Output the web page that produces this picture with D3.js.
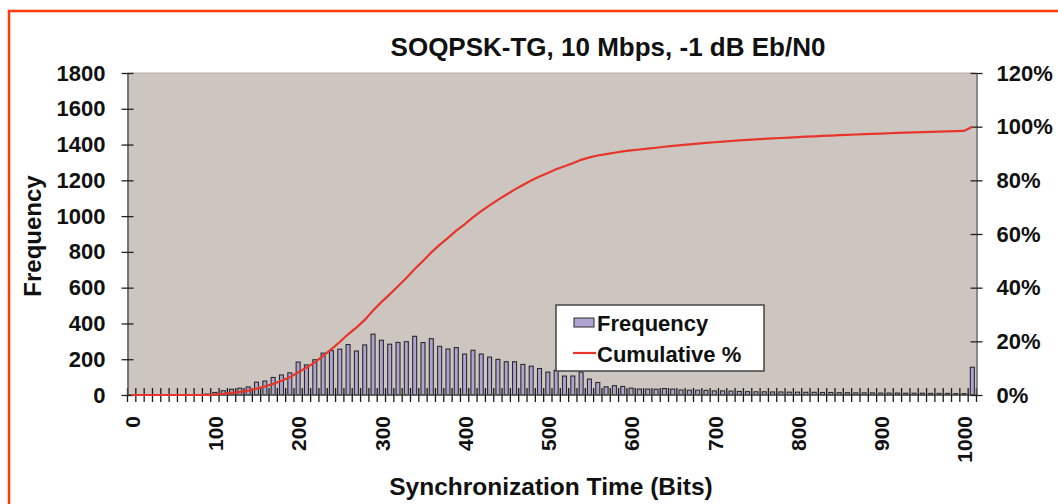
<!DOCTYPE html>
<html><head><meta charset="utf-8">
<script src="https://cdn.jsdelivr.net/npm/d3@7"></script>
<style>
body{margin:0;background:#fff}
text{font-family:"Liberation Sans",Arial,sans-serif;font-weight:bold;fill:#111}
</style>
</head><body>
<svg id="c" width="1058" height="504"></svg>
<script>
// Categories: histogram bins (bits), 0..1000 step 10, plus "More"
const bins = d3.range(0, 1001, 10).map(String).concat(["More"]);
// Frequency per bin
const frequency = [
  0,0,0,0,0,0,0,0,0,5,
  14,24,32,38,45,72,78,98,112,124,
  184,168,197,234,248,256,282,246,280,340,
  306,284,294,298,328,293,315,272,257,265,
  229,250,229,212,199,186,186,171,161,148,
  128,138,106,106,128,89,70,46,52,48,
  38,33,33,32,36,33,28,27,27,26,
  23,23,22,20,19,18,18,17,17,16,
  16,15,15,14,14,13,13,12,12,12,
  11,11,11,10,10,10,9,9,9,8,
  8,
  155
];
const leftTicks = [0,200,400,600,800,1000,1200,1400,1600,1800];
const rightTicks = [0,0.2,0.4,0.6,0.8,1.0,1.2];
const xLabelBins = ["0","100","200","300","400","500","600","700","800","900","1000"];
const title = "SOQPSK-TG, 10 Mbps, -1 dB Eb/N0";
const xTitle = "Synchronization Time (Bits)";
const yTitle = "Frequency";
const legendNames = ["Frequency", "Cumulative %"];

// Cumulative % derived from the frequency series (as the chart defines it)
const total = d3.sum(frequency);
const cumulative = Array.from(d3.cumsum(frequency), v => v / total);

const svg = d3.select("#c");
const L = 127.5, R = 976.5, T = 73, B = 395;
const FONT = '"Liberation Sans",Arial,sans-serif';

// outer red frame
svg.append("rect").attr("x", 9).attr("y", 11).attr("width", 1070).attr("height", 520)
  .attr("fill", "none").attr("stroke", "#ff3a0a").attr("stroke-width", 2.5);

const x = d3.scaleBand().domain(bins).range([L, R]).paddingInner(0.4).paddingOuter(0.2);
const yL = d3.scaleLinear().domain([0, 1800]).range([B, T]);
const yR = d3.scaleLinear().domain([0, 1.2]).range([B, T]);

// plot area
svg.append("rect").attr("x", L).attr("y", T).attr("width", R - L).attr("height", B - T)
  .attr("fill", "#cdc6c0");
svg.append("line").attr("x1", L).attr("x2", R).attr("y1", T).attr("y2", T)
  .attr("stroke", "#b5aea8").attr("stroke-width", 1);

// bars
svg.append("g").selectAll("rect").data(bins).join("rect")
  .attr("x", (d) => x(d) + 0.5)
  .attr("y", (d, i) => yL(frequency[i]))
  .attr("width", x.bandwidth() - 1)
  .attr("height", (d, i) => B - yL(frequency[i]))
  .attr("fill", "#ada4d2").attr("stroke", "#2a2a2a").attr("stroke-width", 1.1);

// x axis line and crossing ticks between categories
const step = x.step();
const gx = svg.append("g");
gx.append("line").attr("x1", L).attr("x2", R).attr("y1", B).attr("y2", B)
  .attr("stroke", "#555").attr("stroke-width", 1.5);
const tickX = (d, i) => i < bins.length ? x(d) - step * 0.2 : x(bins[bins.length - 1]) + x.bandwidth() + step * 0.2;
gx.selectAll("line.tk").data(bins.concat(["__end"])).join("line").attr("class", "tk")
  .attr("x1", tickX).attr("x2", tickX)
  .attr("y1", B - 7).attr("y2", B + 7)
  .attr("stroke", "#1a1a1a").attr("stroke-width", 1.3);
gx.selectAll("text").data(xLabelBins).join("text")
  .attr("transform", (d) => `translate(${x(d) + x.bandwidth() / 2 + 1},416) rotate(-90)`)
  .attr("text-anchor", "end").attr("dy", "0.35em")
  .style("font-size", "21px").text((d) => d);

// left axis
const gl = svg.append("g").attr("transform", `translate(${L},0)`)
  .call(d3.axisLeft(yL).tickValues(leftTicks).tickSize(6).tickPadding(16).tickSizeOuter(0)
    .tickFormat(d3.format("d")));
gl.select(".domain").attr("stroke", "#555").attr("stroke-width", 1.5);
gl.selectAll(".tick line").attr("x1", 6).attr("stroke", "#222").attr("stroke-width", 1.3);
gl.selectAll(".tick text").style("font-size", "22px").attr("fill", "#111")
  .style("font-family", FONT);

// right axis
const gr = svg.append("g").attr("transform", `translate(${R},0)`)
  .call(d3.axisRight(yR).tickValues(rightTicks).tickSize(6).tickPadding(14).tickSizeOuter(0)
    .tickFormat(d3.format(".0%")));
gr.select(".domain").attr("stroke", "#666").attr("stroke-width", 1.5);
gr.selectAll(".tick line").attr("x1", -6).attr("stroke", "#222").attr("stroke-width", 1.3);
gr.selectAll(".tick text").style("font-size", "22px").attr("fill", "#111")
  .style("font-family", FONT);

// cumulative line
const line = d3.line()
  .x((d, i) => x(bins[i]) + x.bandwidth() / 2)
  .y((d) => yR(d));
svg.append("path").datum(cumulative).attr("d", line)
  .attr("fill", "none").attr("stroke", "#e8352b").attr("stroke-width", 2.2);

// title and axis titles
svg.append("text").attr("x", 608).attr("y", 56).attr("text-anchor", "middle")
  .style("font-size", "26px").text(title);
svg.append("text").attr("x", 551).attr("y", 495).attr("text-anchor", "middle")
  .style("font-size", "24.5px").text(xTitle);
svg.append("text").attr("transform", "translate(41,236) rotate(-90)").attr("text-anchor", "middle")
  .style("font-size", "24px").text(yTitle);

// legend
const lg = svg.append("g");
lg.append("rect").attr("x", 556).attr("y", 305).attr("width", 208).attr("height", 66)
  .attr("fill", "#fff").attr("stroke", "#444").attr("stroke-width", 1.5);
lg.append("rect").attr("x", 574).attr("y", 318).attr("width", 20).attr("height", 9)
  .attr("fill", "#ada4d2").attr("stroke", "#2a2a2a").attr("stroke-width", 1);
lg.append("line").attr("x1", 573).attr("x2", 596).attr("y1", 353).attr("y2", 353)
  .attr("stroke", "#e8352b").attr("stroke-width", 2.2);
lg.selectAll("text").data(legendNames).join("text")
  .attr("x", 597).attr("y", (d, i) => 331 + i * 31)
  .style("font-size", "22px").text((d) => d);
</script>
</body></html>
